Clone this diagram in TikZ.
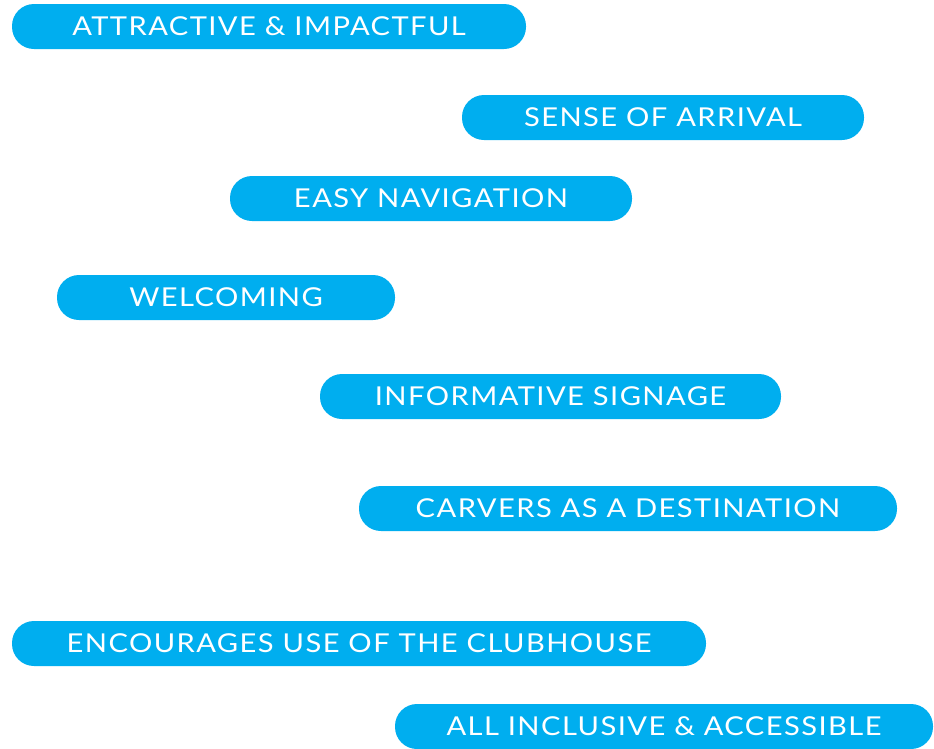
\documentclass[tikz,border=0pt]{standalone}
\usepackage{fontspec}
\setmainfont{Lato}[FakeStretch=1.12, LetterSpace=5.5]
\definecolor{pillblue}{RGB}{0,174,239}
\tikzset{
  pill/.style={fill=pillblue, rounded corners=22pt, inner sep=0pt, minimum height=45pt,
    text=white, font=\fontsize{26}{26}\selectfont, anchor=center},
}
\begin{document}
\begin{tikzpicture}[x=1pt,y=-1pt]
\useasboundingbox (0,0) rectangle (934,748);
\node[pill, minimum width=514pt] (p1) at (269,26.5) {ATTRACTIVE \& IMPACTFUL};
\node[pill, minimum width=402pt] (p2) at (663,117.5) {SENSE OF ARRIVAL};
\node[pill, minimum width=402pt] (p3) at (431,198.5) {EASY NAVIGATION};
\node[pill, minimum width=338pt] (p4) at (226,297.5) {WELCOMING};
\node[pill, minimum width=461pt] (p5) at (550.5,396.5) {INFORMATIVE SIGNAGE};
\node[pill, minimum width=538pt] (p6) at (628,508.5) {CARVERS AS A DESTINATION};
\node[pill, minimum width=694pt] (p7) at (359,643.5) {ENCOURAGES USE OF THE CLUBHOUSE};
\node[pill, minimum width=538pt] (p8) at (664,726.5) {ALL INCLUSIVE \& ACCESSIBLE};
\end{tikzpicture}
\end{document}
